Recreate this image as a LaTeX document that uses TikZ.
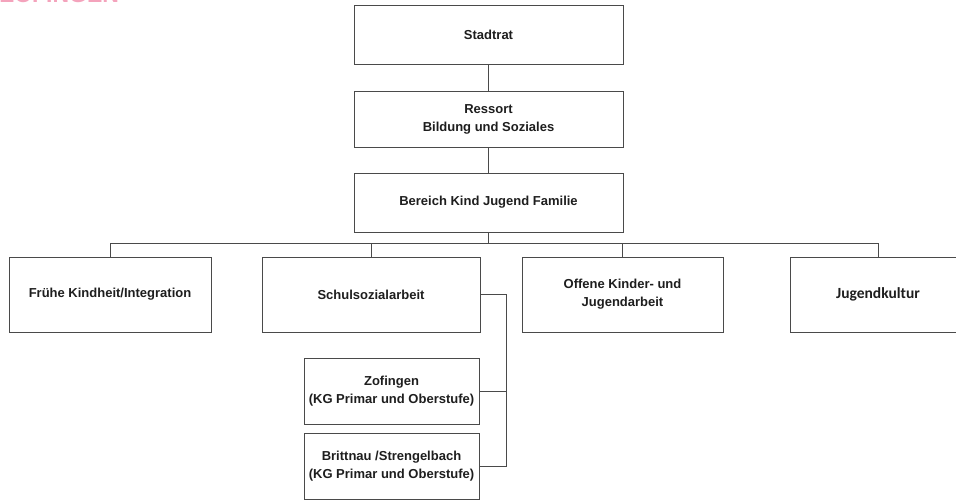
\documentclass[tikz,border=0pt]{standalone}
\usepackage{fontspec}
\setmainfont{Liberation Sans}
\newfontfamily\jkfont{Carlito}
\definecolor{linegray}{HTML}{4A4A4A}
\definecolor{txt}{HTML}{1E1E1E}
\definecolor{logopink}{HTML}{F4A3BC}
\begin{document}
\begin{tikzpicture}[x=1pt,y=-1pt,
  box/.style={draw=linegray, line width=0.9pt, fill=white, text=txt,
    font=\bfseries\fontsize{13}{17.8}\selectfont, align=center, inner sep=0pt},
  conn/.style={draw=linegray, line width=0.9pt}]
\useasboundingbox (0,0) rectangle (956,499);
\begin{scope}
\clip (0,0) rectangle (956,499);
\node[anchor=base west, text=logopink, font=\bfseries\fontsize{23}{23}\selectfont, inner sep=0pt] (logo) at (0,2) {ZOFINGEN};
\end{scope}
\node[box, minimum width=269pt, minimum height=59pt] (stadtrat) at (488.5,34.5) {Stadtrat};
\node[box, minimum width=269pt, minimum height=56pt] (ressort) at (488.5,119) {Ressort\\Bildung und Soziales};
\node[box, minimum width=269pt, minimum height=59pt] (bereich) at (488.5,202.5) {Bereich Kind Jugend Familie};
\node[box, minimum width=202pt, minimum height=75pt] (fruehe) at (110,294.5) {Frühe Kindheit/Integration};
\node[box, minimum width=218pt, minimum height=75pt] (schul) at (371,294.5) {Schulsozialarbeit};
\node[box, minimum width=201pt, minimum height=75pt] (offene) at (622.5,294.5) {Offene Kinder- und\\Jugendarbeit};
\node[box, minimum width=176pt, minimum height=75pt, font=\jkfont\bfseries\fontsize{15.5}{18}\selectfont] (jugend) at (878,294.5) {Jugendkultur};
\node[box, minimum width=175pt, minimum height=66pt] (zof) at (391.5,391) {Zofingen\\(KG Primar und Oberstufe)};
\node[box, minimum width=175pt, minimum height=66pt] (britt) at (391.5,466) {Brittnau /Strengelbach\\(KG Primar und Oberstufe)};
\coordinate (bus) at (488.5,243);
\coordinate (rail) at (506,0);
\draw[conn] (stadtrat.south) -- (ressort.north);
\draw[conn] (ressort.south) -- (bereich.north);
\draw[conn] (bereich.south) -- (bus);
\draw[conn] (fruehe.north) |- (jugend.north |- bus) -- (jugend.north);
\draw[conn] (schul.north) -- (schul.north |- bus);
\draw[conn] (offene.north) -- (offene.north |- bus);
\draw[conn] (schul.east) -| (rail |- britt.east) -- (britt.east);
\draw[conn] (zof.east) -- (rail |- zof.east);
\end{tikzpicture}
\end{document}
